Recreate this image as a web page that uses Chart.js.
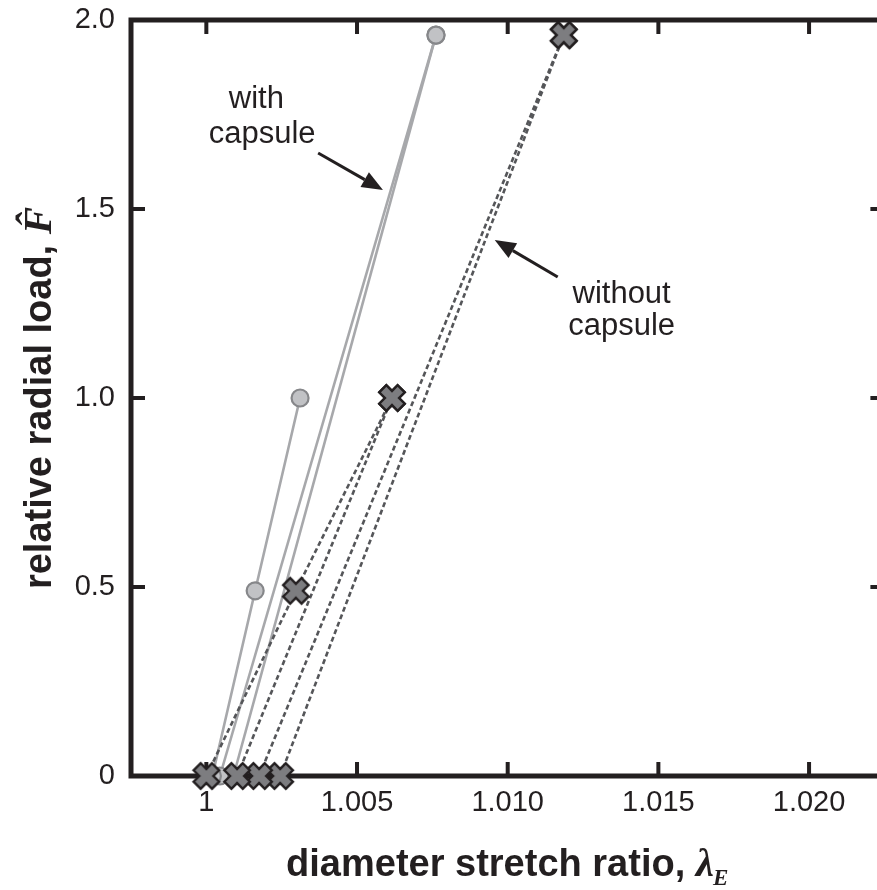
<!DOCTYPE html>
<html>
<head>
<meta charset="utf-8">
<script src="https://cdn.jsdelivr.net/npm/chart.js@4.4.0/dist/chart.umd.min.js"></script>
<style>
  html, body { margin: 0; padding: 0; background: #fff; overflow: hidden; }
</style>
</head>
<body>
<canvas id="stretchChart" width="900" height="890"></canvas>
<script>
// axis ticks
const xTickValues = [1, 1.005, 1.010, 1.015, 1.020];
const xTickLabels = ['1', '1.005', '1.010', '1.015', '1.020'];
const yTickValues = [0, 0.5, 1.0, 1.5, 2.0];
const yTickLabels = ['0', '0.5', '1.0', '1.5', '2.0'];

// with capsule (solid, circles)
const withCap1Lambda = [1.0002, 1.00162, 1.00311];
const withCap1Load = [0, 0.49, 1.0];
const withCap2Lambda = [1.00045, 1.00762];
const withCap2Load = [0, 1.96];
const withCap3Lambda = [1.0009, 1.00762];
const withCap3Load = [0, 1.96];

// without capsule (dashed, crosses)
const noCap1Lambda = [1.0, 1.00297, 1.00616];
const noCap1Load = [0, 0.49, 1.0];
const noCap2Lambda = [1.00102, 1.00616];
const noCap2Load = [0, 1.0];
const noCap3Lambda = [1.00175, 1.01186];
const noCap3Load = [0, 1.96];
const noCap4Lambda = [1.00245, 1.01186];
const noCap4Load = [0, 1.96];

// callout texts and arrows, in data units
const calloutTexts = [
  { text: 'with', x: 1.00166, y: 1.767 },
  { text: 'capsule', x: 1.00185, y: 1.675 },
  { text: 'without', x: 1.01378, y: 1.251 },
  { text: 'capsule', x: 1.01378, y: 1.167 },
];
const calloutArrows = [
  { from: [1.00371, 1.648], to: [1.00586, 1.550] },
  { from: [1.01166, 1.320], to: [1.00957, 1.418] },
];

const INK = '#231f20';
const SANS = '"Liberation Sans", Arial, Helvetica, sans-serif';
const SERIF = '"Liberation Serif", "Times New Roman", serif';
const TITLE_SIZE = 38;

function toPoints(xs, ys) {
  return xs.map((x, i) => ({ x: x, y: ys[i] }));
}

function makeCrossMarker() {
  const c = document.createElement('canvas');
  c.width = 32;
  c.height = 32;
  const g = c.getContext('2d');
  g.translate(16, 16);
  g.rotate(Math.PI / 4);
  const a = 5, b = 13;
  g.beginPath();
  g.moveTo(-a, -b); g.lineTo(a, -b); g.lineTo(a, -a); g.lineTo(b, -a);
  g.lineTo(b, a); g.lineTo(a, a); g.lineTo(a, b); g.lineTo(-a, b);
  g.lineTo(-a, a); g.lineTo(-b, a); g.lineTo(-b, -a); g.lineTo(-a, -a);
  g.closePath();
  g.fillStyle = '#7d7d80';
  g.fill();
  g.lineWidth = 2.4;
  g.lineJoin = 'miter';
  g.strokeStyle = INK;
  g.stroke();
  return c;
}
const crossMarker = makeCrossMarker();

function capsuleSet(xs, ys) {
  return {
    data: toPoints(xs, ys),
    showLine: true,
    borderColor: '#a7a8ab',
    borderWidth: 2.6,
    pointStyle: 'circle',
    pointRadius: 8.5,
    pointBackgroundColor: '#c1c2c5',
    pointBorderColor: '#86878a',
    pointBorderWidth: 2.2,
    clip: false,
    order: 2,
  };
}

function noCapsuleSet(xs, ys) {
  return {
    data: toPoints(xs, ys),
    showLine: true,
    borderColor: '#555659',
    borderWidth: 2.6,
    borderDash: [5, 3],
    pointStyle: crossMarker,
    pointRadius: 13,
    clip: false,
    order: 1,
  };
}

// box frame with inward ticks on all four sides, plus titles and callouts
const framePlugin = {
  id: 'frame',
  beforeDatasetsDraw(chart) {
    const { ctx, chartArea: a } = chart;
    const xs = chart.scales.x, ys = chart.scales.y;
    ctx.save();
    ctx.strokeStyle = INK;
    ctx.lineWidth = 4;
    ctx.beginPath();
    xTickValues.forEach(v => {
      const px = xs.getPixelForValue(v);
      ctx.moveTo(px, a.bottom); ctx.lineTo(px, a.bottom - 14);
      ctx.moveTo(px, a.top); ctx.lineTo(px, a.top + 14);
    });
    yTickValues.forEach(v => {
      const py = ys.getPixelForValue(v);
      ctx.moveTo(a.left, py); ctx.lineTo(a.left + 14, py);
      ctx.moveTo(a.right, py); ctx.lineTo(a.right - 14, py);
    });
    ctx.stroke();
    ctx.lineWidth = 5;
    ctx.lineJoin = 'miter';
    ctx.strokeRect(a.left, a.top, a.right - a.left, a.bottom - a.top);
    ctx.restore();
  },
  afterDraw(chart) {
    const { ctx, chartArea: a } = chart;
    const xs = chart.scales.x, ys = chart.scales.y;
    ctx.save();
    ctx.fillStyle = INK;
    ctx.strokeStyle = INK;

    // callout text
    ctx.font = '31px ' + SANS;
    ctx.textAlign = 'center';
    ctx.textBaseline = 'alphabetic';
    calloutTexts.forEach(t => {
      ctx.fillText(t.text, xs.getPixelForValue(t.x), ys.getPixelForValue(t.y));
    });

    // arrows
    calloutArrows.forEach(ar => {
      const x0 = xs.getPixelForValue(ar.from[0]), y0 = ys.getPixelForValue(ar.from[1]);
      const x1 = xs.getPixelForValue(ar.to[0]), y1 = ys.getPixelForValue(ar.to[1]);
      const ang = Math.atan2(y1 - y0, x1 - x0);
      const len = 21, hw = 8.5;
      const bx = x1 - len * Math.cos(ang), by = y1 - len * Math.sin(ang);
      ctx.lineWidth = 3;
      ctx.beginPath();
      ctx.moveTo(x0, y0);
      ctx.lineTo(bx, by);
      ctx.stroke();
      ctx.beginPath();
      ctx.moveTo(x1, y1);
      ctx.lineTo(bx + hw * Math.sin(ang), by - hw * Math.cos(ang));
      ctx.lineTo(bx - hw * Math.sin(ang), by + hw * Math.cos(ang));
      ctx.closePath();
      ctx.fill();
    });

    // x axis title
    ctx.textAlign = 'left';
    const xMain = 'diameter stretch ratio, ';
    const mainFont = 'bold ' + TITLE_SIZE + 'px ' + SANS;
    const symFont = 'bold italic ' + (TITLE_SIZE + 3) + 'px ' + SERIF;
    const subFont = 'bold italic ' + Math.round(TITLE_SIZE * 0.6) + 'px ' + SERIF;
    ctx.font = mainFont;
    const w1 = ctx.measureText(xMain).width;
    ctx.font = symFont;
    const w2 = ctx.measureText('\u03bb').width;
    ctx.font = subFont;
    const w3 = ctx.measureText('E').width;
    const sx = (a.left + a.right) / 2 - (w1 + w2 + w3) / 2;
    const baseY = 876;
    ctx.font = mainFont;
    ctx.fillText(xMain, sx, baseY);
    ctx.font = symFont;
    ctx.fillText('\u03bb', sx + w1, baseY);
    ctx.font = subFont;
    ctx.fillText('E', sx + w1 + w2 - 1, baseY + 9);

    // y axis title
    ctx.translate(51, (a.top + a.bottom) / 2);
    ctx.rotate(-Math.PI / 2);
    const yMain = 'relative radial load, ';
    ctx.font = mainFont;
    const v1 = ctx.measureText(yMain).width;
    ctx.font = symFont;
    const v2 = ctx.measureText('F').width;
    const sy = -(v1 + v2) / 2;
    ctx.font = mainFont;
    ctx.fillText(yMain, sy, 0);
    ctx.font = symFont;
    ctx.fillText('F\u0302', sy + v1, 0);
    ctx.restore();
  },
};

new Chart(document.getElementById('stretchChart'), {
  type: 'scatter',
  data: {
    datasets: [
      noCapsuleSet(noCap1Lambda, noCap1Load),
      noCapsuleSet(noCap2Lambda, noCap2Load),
      noCapsuleSet(noCap3Lambda, noCap3Load),
      noCapsuleSet(noCap4Lambda, noCap4Load),
      capsuleSet(withCap1Lambda, withCap1Load),
      capsuleSet(withCap2Lambda, withCap2Load),
      capsuleSet(withCap3Lambda, withCap3Load),
    ],
  },
  options: {
    responsive: false,
    animation: false,
    layout: { padding: { top: 20, right: 14, left: 0, bottom: 0 } },
    plugins: {
      legend: { display: false },
      tooltip: { enabled: false },
    },
    scales: {
      x: {
        type: 'linear',
        min: 0.9975,
        max: 1.0225,
        afterBuildTicks: s => { s.ticks = xTickValues.map(v => ({ value: v })); },
        afterFit: s => {
          s.height = 114;
          s.paddingLeft = 0;
          s.paddingRight = 0;
        },
        ticks: {
          callback: (v, i) => xTickLabels[i],
          font: { family: SANS, size: 29 },
          color: INK,
          padding: 10,
          maxRotation: 0,
          autoSkip: false,
        },
        grid: { display: false, drawTicks: false },
        border: { display: false },
      },
      y: {
        type: 'linear',
        min: 0,
        max: 2,
        afterBuildTicks: s => { s.ticks = yTickValues.map(v => ({ value: v })); },
        afterFit: s => {
          s.width = 131;
          s.paddingTop = 0;
          s.paddingBottom = 0;
        },
        ticks: {
          callback: (v, i) => yTickLabels[i],
          font: { family: SANS, size: 29 },
          color: INK,
          padding: 16,
          autoSkip: false,
        },
        grid: { display: false, drawTicks: false },
        border: { display: false },
      },
    },
  },
  plugins: [framePlugin],
});
</script>
</body>
</html>
